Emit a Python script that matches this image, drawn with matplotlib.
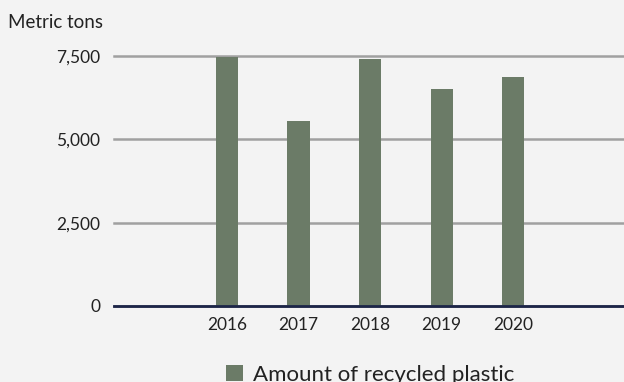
import matplotlib.pyplot as plt
import numpy as np

years = ["2016", "2017", "2018", "2019", "2020"]
recycled = [7480, 5550, 7410, 6510, 6870]
yticks = [0, 2500, 5000, 7500]
ytick_labels = ["0", "2,500", "5,000", "7,500"]

bg = "#f3f3f3"
bar_color = "#6b7b67"
plt.rcParams['font.family'] = ['Lato', 'DejaVu Sans']

fig = plt.figure(figsize=(6.24, 3.82), dpi=100, facecolor=bg)
ax = fig.add_axes([114/624, 76/382, 1 - 114/624, 250/382])
ax.set_facecolor(bg)

x = np.arange(len(years))
ax.bar(x, recycled, width=0.31, color=bar_color, zorder=3,
       label="Amount of recycled plastic")

ax.set_xlim(-1.58, 5.55)
ax.set_ylim(0, 7500)
ax.set_yticks(yticks)
ax.set_yticklabels(ytick_labels)
ax.set_xticks(x)
ax.set_xticklabels(years)
ax.tick_params(length=0, labelsize=12.5, colors="#222222")
ax.tick_params(axis='y', pad=10)
ax.tick_params(axis='x', pad=8)
ax.grid(axis='y', color="#a0a0a0", linewidth=1.8, zorder=0)
for gl in ax.get_ygridlines():
    gl.set_clip_on(False)
for s in ["top", "right", "left"]:
    ax.spines[s].set_visible(False)
ax.spines["bottom"].set_color("#1c2548")
ax.spines["bottom"].set_linewidth(2)
ax.spines["bottom"].set_zorder(4)

fig.text(8/624, 1 - 22/382, "Metric tons", fontsize=13.5, color="#222222",
         va="center", ha="left")

fig.legend(loc="center", bbox_to_anchor=(0.593, 1 - 375/382), frameon=False,
           fontsize=16, handlelength=0.75, handleheight=0.75, handletextpad=0.45,
           labelcolor="#222222")

fig.savefig("out.png", dpi=100, facecolor=bg)
